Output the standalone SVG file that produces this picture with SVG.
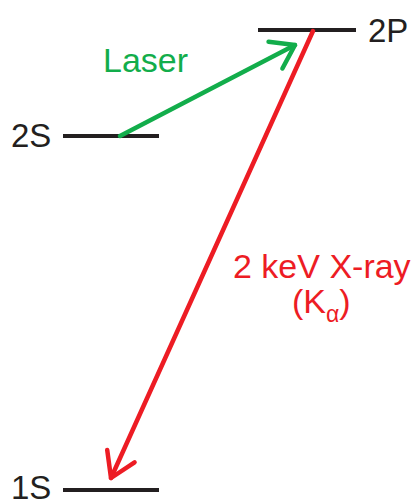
<svg xmlns="http://www.w3.org/2000/svg" width="415" height="502" viewBox="0 0 415 502">
<style>
.lvl{stroke:#231f20;stroke-width:4;}
.lbl{font-family:"Liberation Sans",Arial,sans-serif;font-size:33px;fill:#231f20;}
.g{fill:#12ad4b;font-family:"Liberation Sans",Arial,sans-serif;font-size:34px;}
.r{fill:#ed1c24;font-family:"Liberation Sans",Arial,sans-serif;font-size:34px;}
</style>
<defs>
<marker id="ag" markerUnits="userSpaceOnUse" viewBox="-30 -20 34 40" markerWidth="34" markerHeight="40" refX="0" refY="0" orient="auto">
<polyline points="-22,-15 0,0 -22,15" fill="none" stroke="#12ad4b" stroke-width="4.5" stroke-linecap="round" stroke-linejoin="round"/>
</marker>
<marker id="ar" markerUnits="userSpaceOnUse" viewBox="-30 -20 34 40" markerWidth="34" markerHeight="40" refX="0" refY="0" orient="auto">
<polyline points="-24,-15 0,0 -24,15" fill="none" stroke="#ed1c24" stroke-width="4.5" stroke-linecap="round" stroke-linejoin="round"/>
</marker>
</defs>
<g id="level-2P"><line class="lvl" x1="258" y1="30" x2="356" y2="30"/><text class="lbl" x="368" y="42">2P</text></g>
<g id="level-2S"><line class="lvl" x1="63" y1="136" x2="159" y2="136"/><text class="lbl" x="11" y="147">2S</text></g>
<g id="level-1S"><line class="lvl" x1="63" y1="490" x2="159" y2="490"/><text class="lbl" x="11" y="499">1S</text></g>
<g id="connectors">
<line x1="120" y1="136" x2="295" y2="45" stroke="#12ad4b" stroke-width="4.5" stroke-linecap="round" marker-end="url(#ag)"/>
<line x1="313" y1="31" x2="111" y2="478" stroke="#ed1c24" stroke-width="4.5" stroke-linecap="round" marker-end="url(#ar)"/>
</g>
<text class="g" x="103" y="72">Laser</text>
<text class="r" x="233" y="278">2 keV X-ray</text>
<text class="r" x="292" y="313">(K<tspan font-size="23" dy="9">α</tspan><tspan dy="-9">)</tspan></text>
</svg>
